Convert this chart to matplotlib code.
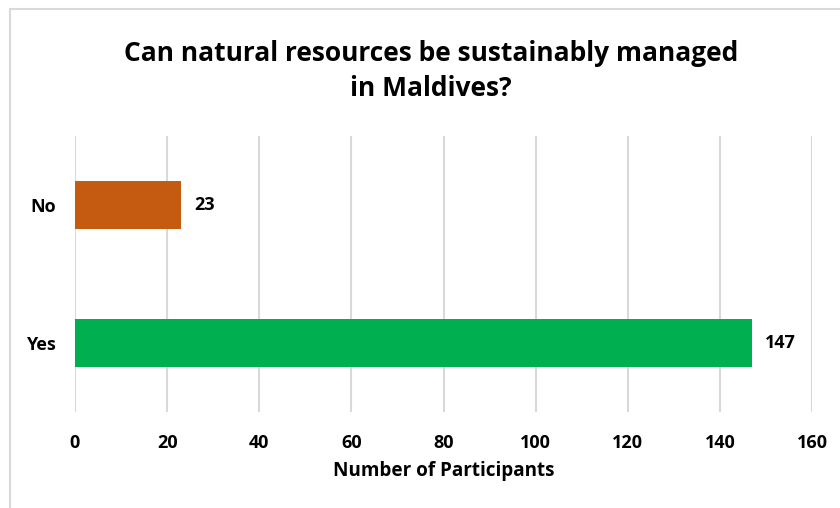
import matplotlib.pyplot as plt
from matplotlib.patches import Rectangle

categories = ["Yes", "No"]
values = [147, 23]
colors = ["#00B050", "#C55A11"]
x_ticks = [0, 20, 40, 60, 80, 100, 120, 140, 160]

plt.rcParams['font.family'] = ['Open Sans', 'DejaVu Sans']

fig = plt.figure(figsize=(8.4, 5.08), dpi=100)
ax = fig.add_axes([75 / 840, 1 - 412 / 508, 737 / 840, 276 / 508])

pos = list(range(len(categories)))
bars = ax.barh(pos, values, height=0.35, color=colors, zorder=3)

for b, v in zip(bars, values):
    ax.annotate(str(v), (b.get_width(), b.get_y() + b.get_height() / 2),
                xytext=(13, 0), textcoords='offset pixels', va='center', ha='left',
                fontsize=13, fontweight='bold', color='black')

ax.set_xlim(0, 160)
ax.set_ylim(-0.5, 1.5)
ax.set_xticks(x_ticks)
ax.set_yticks(pos)
ax.set_yticklabels(categories)
ax.tick_params(axis='both', length=0, labelsize=13, labelcolor='black')
ax.tick_params(axis='y', pad=14)
ax.tick_params(axis='x', pad=16)
for lab in ax.get_xticklabels() + ax.get_yticklabels():
    lab.set_fontweight('bold')

ax.grid(axis='x', color='#D9D9D9', linewidth=1.5, zorder=0)
ax.grid(axis='y', visible=False)
for s in ax.spines.values():
    s.set_visible(False)

ax.set_xlabel("Number of Participants", fontsize=13.6, fontweight='bold', labelpad=6)

fig.text(431 / 840, 1 - 71 / 508, "Can natural resources be sustainably managed\nin Maldives?",
         ha='center', va='center', fontsize=19, fontweight='bold', linespacing=1.4)

fig.patches.append(Rectangle((10 / 840, -0.1), 1.2, 1 - 9 / 508 + 0.1, transform=fig.transFigure,
                             fill=False, edgecolor='#D9D9D9', linewidth=1.5))

fig.savefig("out.png", dpi=100)
